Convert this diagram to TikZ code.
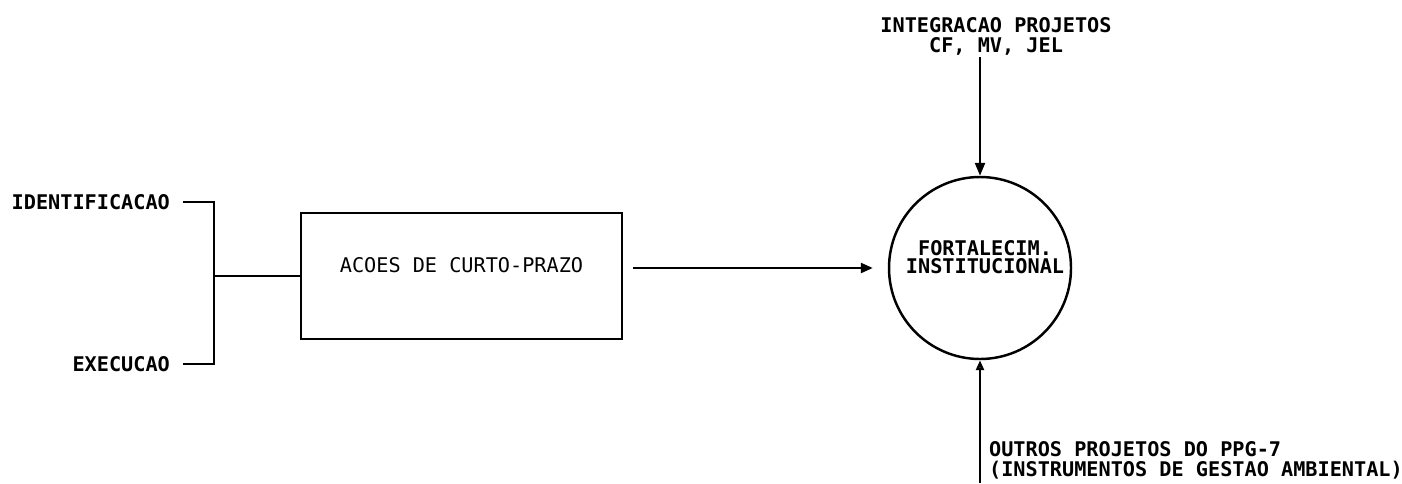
\documentclass[tikz,border=0pt]{standalone}
\usepackage{fontspec}
\setmonofont{DejaVu Sans Mono}
\usetikzlibrary{positioning,arrows.meta}

\begin{document}
\begin{tikzpicture}[every node/.style={font=\ttfamily\bfseries\fontsize{11.5}{11.4}\selectfont, inner sep=1pt},
    line/.style={line width=1.4pt},
    box/.style={draw, line width=1.4pt, minimum width=6.42cm, minimum height=2.52cm},
    goal/.style={draw, circle, line width=1.4pt, minimum size=3.64cm, inner sep=0pt}]
    \useasboundingbox (0,0) rectangle (28.04,9.66);

    \node[box] (acoes) at (9.23,4.14) {};
    \node[font=\ttfamily\fontsize{11.5}{11.4}\selectfont] (acoestxt) at ([yshift=0.22cm]acoes.center) {ACOES DE CURTO-PRAZO};
    \node[goal] (fort) at (19.6,4.3) {};
    \node[align=center, font=\ttfamily\bfseries\fontsize{11.5}{10.2}\selectfont] (forttxt) at ([xshift=0.1cm,yshift=0.22cm]fort.center) {FORTALECIM.\\INSTITUCIONAL};

    \node[anchor=east] (ident) at (3.44,5.62) {IDENTIFICACAO};
    \node[anchor=east] (exec) at (3.44,2.38) {EXECUCAO};
    \coordinate (join) at (4.28,4.14);

    \node[align=center] (integ) at (19.92,8.94) {INTEGRACAO PROJETOS\\CF, MV, JEL};
    \node[align=left, anchor=west] (outros) at (19.74,0.46) {OUTROS PROJETOS DO PPG-7\\(INSTRUMENTOS DE GESTAO AMBIENTAL)};
    \coordinate (outrosin) at (19.56,0);

    % bracket into the box
    \draw[line] ([xshift=0.22cm]ident.east) -| (join) |- ([xshift=0.22cm]exec.east);
    \draw[line] (join) -- (acoes.west);

    \draw[line, -{Triangle[length=0.24cm, width=0.2cm]}, shorten <=0.2cm, shorten >=0.3cm] (acoes.east |- fort.west) -- (fort.west);
    \draw[line, -{Triangle[length=0.26cm, width=0.2cm]}] (integ.south -| fort.north) -- (fort.north);
    \draw[line, -{Triangle[open, length=0.2cm, width=0.16cm]}] (outrosin -| fort.south) -- (fort.south);
\end{tikzpicture}
\end{document}
